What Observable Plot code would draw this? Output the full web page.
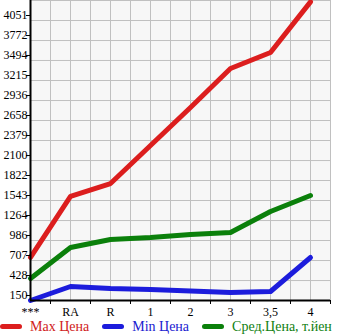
<!DOCTYPE html>
<html>
<head>
<meta charset="utf-8">
<script src="https://cdn.jsdelivr.net/npm/d3@7"></script>
<script src="https://cdn.jsdelivr.net/npm/@observablehq/plot@0.6"></script>
<style>
  html, body { margin: 0; padding: 0; background: #ffffff; }
  #chart { width: 345px; height: 318px; }
  #legend { display: flex; align-items: center; height: 17px; font-family: "Liberation Serif", serif; font-size: 14px; white-space: nowrap; }
  .item { display: flex; align-items: center; margin-right: 13px; }
  .sw { display: inline-block; width: 22px; height: 5px; border-radius: 3px; margin-right: 8px; }
</style>
</head>
<body>
<div id="chart"></div>
<div id="legend"></div>
<script>
const categories = ["***", "RA", "R", "1", "2", "3", "3,5", "4"];
const maxPrice = [750, 1599, 1780, 2309, 2839, 3382, 3605, 4310];
const minPrice = [150, 345, 317, 303, 282, 261, 275, 749];
const avgPrice = [456, 888, 1000, 1028, 1070, 1097, 1390, 1613];
const yTicks = [150, 428, 707, 986, 1264, 1543, 1822, 2100, 2379, 2658, 2936, 3215, 3494, 3772, 4051];
const seriesNames = ["Max Цена", "Min Цена", "Сред.Цена, т.йен"];
const seriesColors = ["#dc1e1e", "#1c1cdc", "#0b800b"];
const textColors = ["#d02020", "#2020d0", "#108010"];

const step = (yTicks[yTicks.length - 1] - yTicks[0]) / (yTicks.length - 1);
const yTop = yTicks[yTicks.length - 1] + step;
const gridY = [...yTicks, yTop];
const xMax = categories.length - 0.5;
const gridX = d3.range(0, xMax + 0.01, 0.5);
const halfTicks = d3.range(0.5, xMax + 0.01, 1);

const rows = [];
[maxPrice, minPrice, avgPrice].forEach((vals, s) => {
  vals.forEach((v, i) => rows.push({series: seriesNames[s], i, v}));
});

const chart = Plot.plot({
  width: 345,
  height: 318,
  marginLeft: 30,
  marginRight: 15,
  marginTop: 0,
  marginBottom: 18,
  style: {fontFamily: "Liberation Serif, serif", fontSize: "12px", color: "#000", background: "transparent"},
  x: {type: "linear", domain: [0, xMax], label: null},
  y: {type: "linear", domain: [yTicks[0], yTop], label: null},
  color: {domain: seriesNames, range: seriesColors},
  marks: [
    Plot.frame({fill: "#f7f7f7", stroke: null}),
    Plot.ruleX(gridX, {stroke: "#c0c0c0", strokeWidth: 1}),
    Plot.ruleY(gridY, {stroke: "#c0c0c0", strokeWidth: 1}),
    Plot.line(rows, {x: "i", y: "v", z: "series", stroke: "series", strokeWidth: 5, strokeLinejoin: "round", strokeLinecap: "round"}),
    Plot.ruleX([0], {stroke: "#000", strokeWidth: 2}),
    Plot.ruleY([yTicks[0]], {stroke: "#000", strokeWidth: 2}),
    Plot.axisY({ticks: yTicks, tickFormat: d => String(d), tickSize: 4, tickPadding: -1, dy: -5, stroke: "#000", label: null}),
    Plot.axisX({ticks: d3.range(categories.length), tickFormat: i => categories[i], tickSize: 0, tickPadding: 7, label: null}),
    Plot.axisX({ticks: halfTicks, tickFormat: () => "", tickSize: 4, stroke: "#000", label: null})
  ]
});
document.getElementById("chart").appendChild(chart);

const legend = document.getElementById("legend");
seriesNames.forEach((name, s) => {
  const item = document.createElement("div");
  item.className = "item";
  const sw = document.createElement("span");
  sw.className = "sw";
  sw.style.background = seriesColors[s];
  const t = document.createElement("span");
  t.textContent = name;
  t.style.color = textColors[s];
  item.appendChild(sw);
  item.appendChild(t);
  legend.appendChild(item);
});
</script>
</body>
</html>
